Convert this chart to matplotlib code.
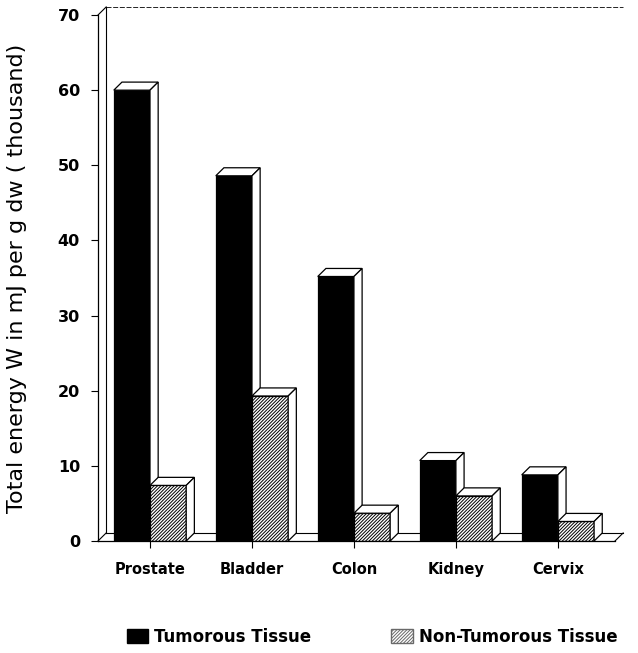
import numpy as np
import matplotlib
matplotlib.use("Agg")
import matplotlib.pyplot as plt
from matplotlib.patches import Patch

# data (thousand mJ per g dw)
organs = ["Prostate", "Bladder", "Colon", "Kidney", "Cervix"]
tumorous = [60.0, 48.6, 35.2, 10.7, 8.8]
non_tumorous = [7.4, 19.3, 3.7, 6.0, 2.6]
yticks = [0, 10, 20, 30, 40, 50, 60, 70]

plt.rcParams["font.family"] = ["DejaVu Sans"]
plt.rcParams["hatch.linewidth"] = 0.7

fig = plt.figure(figsize=(6.38, 6.53), dpi=100)
ax = fig.add_axes([98 / 638, 112 / 653, 517 / 638, 526 / 653])
x0, x1 = -0.51, 4.56
ax.set_xlim(x0, x1)
ax.set_ylim(0, 70)

w = 0.355   # bar width
dx = 0.08   # depth shift in x
dy = 1.07   # depth shift in y
lw = 0.9
hatch = "/" * 10

def bar3d(xl, h, front, hatch=None, z=3):
    xr = xl + w
    # front face
    ax.fill([xl, xr, xr, xl], [0, 0, h, h], facecolor=front,
            edgecolor="black", hatch=hatch, linewidth=lw, zorder=z)
    # top face
    ax.fill([xl, xr, xr + dx, xl + dx], [h, h, h + dy, h + dy],
            facecolor="white", edgecolor="black", linewidth=lw, zorder=z,
            clip_on=False)
    # side face
    ax.fill([xr, xr + dx, xr + dx, xr], [0, dy, h + dy, h],
            facecolor="white", edgecolor="black", linewidth=lw, zorder=z,
            clip_on=False)

pos = np.arange(len(organs))
z = 3
for i in pos:
    bar3d(i - w, tumorous[i], "black", z=z)
    z += 1
    bar3d(i, non_tumorous[i], "white", hatch=hatch, z=z)
    z += 1

# 3d frame: back wall and floor
ax.plot([x0 + dx, x0 + dx], [dy, 70 + dy], color="black", lw=0.8,
        clip_on=False, zorder=1)
ax.plot([x0, x0 + dx], [70, 70 + dy], color="black", lw=0.8,
        clip_on=False, zorder=1)
ax.plot([x0, x0 + dx], [0, dy], color="black", lw=0.8, clip_on=False,
        zorder=1)
ax.plot([x0 + dx, x1 + dx], [70 + dy, 70 + dy], color="black", lw=0.6,
        ls=(0, (6, 2)), clip_on=False, zorder=1)
ax.plot([x0 + dx, x1 + dx], [dy, dy], color="black", lw=0.8,
        clip_on=False, zorder=1)
ax.plot([x1, x1 + dx], [0, dy], color="black", lw=0.8, clip_on=False,
        zorder=1)

for s in ["top", "right"]:
    ax.spines[s].set_visible(False)
ax.spines["left"].set_linewidth(0.9)
ax.spines["bottom"].set_linewidth(0.9)
ax.spines["bottom"].set_zorder(20)

ax.set_yticks(yticks)
ax.set_yticklabels([str(t) for t in yticks], fontsize=11.5, fontweight="bold")
ax.set_xticks(pos)
ax.set_xticklabels(organs, fontsize=10.5, fontweight="bold")
ax.tick_params(axis="both", direction="out", length=5, width=0.8)
ax.tick_params(axis="x", pad=10)
ax.tick_params(axis="y", pad=8)
ax.set_ylabel("Total energy W in mJ per g dw ( thousand)", fontsize=16,
              labelpad=22)

handles = [Patch(facecolor="black", edgecolor="black"),
           Patch(facecolor="white", edgecolor="dimgray", hatch=hatch)]
fig.legend(handles, ["Tumorous Tissue", "Non-Tumorous Tissue"],
           loc="center", bbox_to_anchor=(0.583, 0.025), ncol=2, frameon=False,
           prop={"weight": "bold", "size": 12}, handlelength=1.3,
           handleheight=1.0, columnspacing=4.8, handletextpad=0.35)

fig.savefig("out.png", dpi=100)
